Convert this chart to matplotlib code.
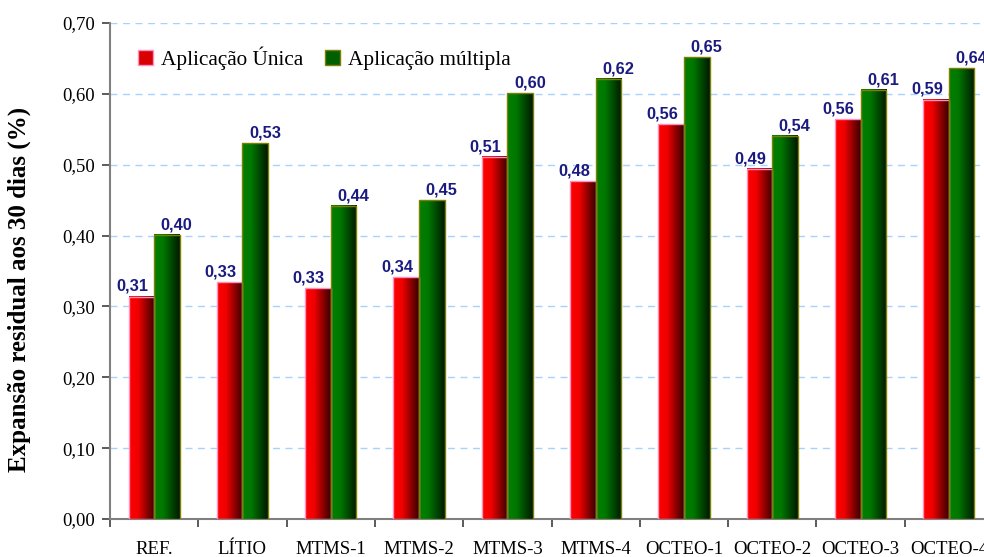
import numpy as np
import matplotlib.pyplot as plt
from matplotlib.patches import Rectangle
from matplotlib.colors import LinearSegmentedColormap

categories = ['REF.', 'LÍTIO', 'MTMS-1', 'MTMS-2', 'MTMS-3', 'MTMS-4',
              'OCTEO-1', 'OCTEO-2', 'OCTEO-3', 'OCTEO-4']
unica = [0.314, 0.334, 0.326, 0.341, 0.511, 0.477, 0.557, 0.494, 0.564, 0.592]
multipla = [0.401, 0.530, 0.442, 0.450, 0.601, 0.621, 0.652, 0.541, 0.606, 0.636]
yticks = [0.0, 0.1, 0.2, 0.3, 0.4, 0.5, 0.6, 0.7]

serif = 'Liberation Serif'
sans = 'Liberation Sans'

#gradient colormaps for the cylinder look of the bars
red_cmap = LinearSegmentedColormap.from_list('r', [(0, '#ff0000'), (0.35, '#f00000'), (1, '#3a0000')])
green_cmap = LinearSegmentedColormap.from_list('g', [(0, '#008000'), (0.35, '#007800'), (1, '#001a00')])
grad = np.linspace(0, 1, 64).reshape(1, -1)

fig = plt.figure(figsize=(9.84, 5.57), dpi=100)
ax = fig.add_axes([110/984, 38/557, 883/984, 496/557])

x = np.arange(len(categories))
w = 0.29


def draw_bars(values, offset, cmap, edge, dx):
    bars = ax.bar(x + offset, values, w, facecolor='none', edgecolor=edge,
                  linewidth=1.0, zorder=4)
    for b, v in zip(bars, values):
        bx, by = b.get_x(), b.get_y()
        ax.imshow(grad, cmap=cmap, aspect='auto', zorder=3,
                  extent=(bx, bx + b.get_width(), by, by + b.get_height()))
        ax.annotate(f'{v:.2f}'.replace('.', ','), (bx + b.get_width()/2, v),
                    xytext=(dx, 4), textcoords='offset points', ha='center',
                    va='baseline', fontsize=11.8, fontweight='bold',
                    family=sans, color='#1a1a80', zorder=5)
    return bars


draw_bars(unica, -w/2, red_cmap, '#ff8fc0', -6.5)
draw_bars(multipla, w/2, green_cmap, '#808000', 7)

ax.set_xlim(-0.5, len(categories) - 0.5)
ax.set_ylim(0, 0.7)

ax.set_yticks(yticks)
ax.set_yticklabels([f'{t:.2f}'.replace('.', ',') for t in yticks],
                   family=serif, fontsize=13.5)
ax.yaxis.grid(True, color='#a6d2ff', linestyle=(0, (5, 4)), linewidth=1)
ax.set_axisbelow(True)

#ticks between groups, labels at group centres
ax.set_xticks(np.arange(-0.5, len(categories), 1))
ax.set_xticklabels([])
ax.set_xticks(x, minor=True)
ax.set_xticklabels(categories, minor=True, family=serif, fontsize=13.5)
ax.tick_params(axis='x', which='minor', length=0, pad=16)
ax.tick_params(axis='y', which='major', pad=5)
ax.tick_params(axis='both', which='major', length=6, width=1.2, color='#404040')

for s in ['top', 'right']:
    ax.spines[s].set_visible(False)
for s in ['left', 'bottom']:
    ax.spines[s].set_color('#808080')
    ax.spines[s].set_linewidth(1.5)

ax.set_ylabel('Expansão residual aos 30 dias (%)', family=serif,
              fontweight='bold', fontsize=18)
ax.yaxis.set_label_coords(-0.0895, 0.462)

handles = [Rectangle((0, 0), 1, 1, facecolor='#d80000', edgecolor='#ff8fc0'),
           Rectangle((0, 0), 1, 1, facecolor='#006000', edgecolor='#808000')]
leg = ax.legend(handles, ['Aplicação Única', 'Aplicação múltipla'], ncol=2,
                loc='upper left', bbox_to_anchor=(0.01, 0.991), frameon=False,
                prop={'family': serif, 'size': 15.3}, handlelength=0.7,
                handleheight=0.7, handletextpad=0.4, columnspacing=1.0)

fig.savefig('out.png', dpi=100)
